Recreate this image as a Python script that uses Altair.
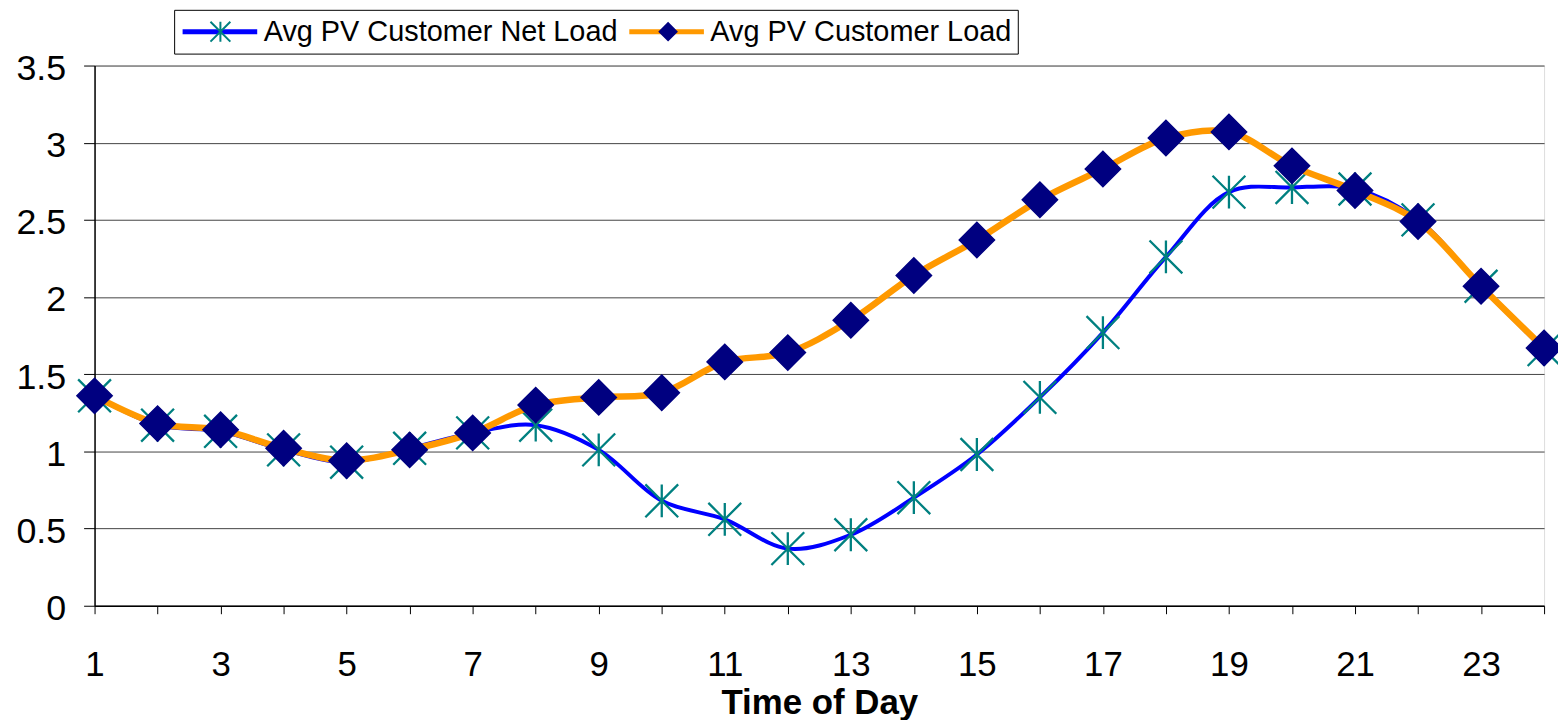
import altair as alt
import pandas as pd

# ---- data ----
hours = list(range(1, 25))
net_load = [1.36, 1.17, 1.13, 1.01, 0.93, 1.02, 1.12, 1.17, 1.01, 0.68, 0.56, 0.37,
            0.46, 0.70, 0.98, 1.35, 1.77, 2.26, 2.68, 2.71, 2.70, 2.50, 2.07, 1.66]
cust_load = [1.36, 1.18, 1.14, 1.02, 0.94, 1.01, 1.12, 1.30, 1.35, 1.38, 1.58, 1.64,
             1.85, 2.14, 2.37, 2.63, 2.83, 3.03, 3.07, 2.85, 2.69, 2.49, 2.07, 1.67]
series_names = ["Avg PV Customer Net Load", "Avg PV Customer Load"]
marker_keys = ["net", "load"]
y_ticks = [0, 0.5, 1, 1.5, 2, 2.5, 3, 3.5]

rows = []
for name, key, vals in zip(series_names, marker_keys, [net_load, cust_load]):
    for h, v in zip(hours, vals):
        rows.append({"hour": h, "kw": v, "series": name, "marker": key})
df = pd.DataFrame(rows)

FONT = "Liberation Sans"
STAR = "M0,-0.253L0,0.253M-0.253,-0.253L0.253,0.253M-0.253,0.253L0.253,-0.253"
DIAMOND = "M-0.215,0L0,-0.215L0.215,0L0,0.215Z"

x_enc = alt.X(
    "hour:Q",
    scale=alt.Scale(domain=[1, 24], nice=False, zero=False),
    axis=alt.Axis(
        values=hours, format="d",
        labelExpr="datum.value % 2 == 1 ? datum.label : ''",
        grid=False, labelFlush=False, labelOverlap=False,
        title="Time of Day", titleFont=FONT, titleFontSize=35, titleFontWeight="bold",
        titleColor="black", titleBaseline="alphabetic", titleY=108,
        labelFont=FONT, labelFontSize=35, labelColor="black", labelPadding=34,
        tickSize=8, tickColor="black", domainColor="black", domainWidth=1.5,
    ),
)
y_enc = alt.Y(
    "kw:Q",
    scale=alt.Scale(domain=[0, 3.5], nice=False),
    axis=alt.Axis(
        values=y_ticks, format="~g", title=None,
        grid=True, gridColor="#444444", gridWidth=1,
        labelFont=FONT, labelFontSize=36, labelColor="black", labelPadding=18,
        labelOffset=3,
        tickSize=11, tickColor="black", domainColor="black", domainWidth=1.5,
    ),
)

common_legend = dict(
    title=None, orient="none", legendX=80, legendY=-56, direction="horizontal",
    clipHeight=32, padding=6, labelOffset=4, columnPadding=9,
    labelFont=FONT, labelFontSize=29, labelLimit=1000,
)

line_color = alt.Color(
    "series:N",
    scale=alt.Scale(domain=series_names, range=["#0000FF", "#FF9900"]),
    legend=alt.Legend(
        symbolType="stroke", symbolSize=5625, symbolStrokeWidth=5,
        labelColor="black", fillColor="white", strokeColor="black",
        **common_legend,
    ),
)
pt_legend = alt.Legend(
    symbolSize=6241, symbolStrokeWidth=2, labelOpacity=0, labelColor="black",
    labelExpr=f"datum.value == 'net' ? '{series_names[0]}' : '{series_names[1]}'",
    zindex=1, **common_legend,
)
pt_shape = alt.Shape("marker:N", scale=alt.Scale(domain=marker_keys, range=[STAR, DIAMOND]),
                     legend=pt_legend)
pt_fill = alt.Fill("marker:N", scale=alt.Scale(domain=marker_keys, range=["transparent", "#000080"]),
                   legend=pt_legend)
pt_stroke = alt.Stroke("marker:N", scale=alt.Scale(domain=marker_keys, range=["#008080", "#000080"]),
                       legend=pt_legend)

base = alt.Chart(df)

line_net = base.mark_line(strokeWidth=4, interpolate="catmull-rom").encode(
    x=x_enc, y=y_enc, color=line_color
).transform_filter(alt.datum.marker == "net")
pts_net = base.mark_point(size=17000, strokeWidth=2.3, opacity=1).encode(
    x=x_enc, y=y_enc, shape=pt_shape, fill=pt_fill, stroke=pt_stroke
).transform_filter(alt.datum.marker == "net")
line_load = base.mark_line(strokeWidth=6.5, interpolate="catmull-rom").encode(
    x=x_enc, y=y_enc, color=line_color
).transform_filter(alt.datum.marker == "load")
pts_load = base.mark_point(size=27250, strokeWidth=1.5, opacity=1).encode(
    x=x_enc, y=y_enc, shape=pt_shape, fill=pt_fill, stroke=pt_stroke
).transform_filter(alt.datum.marker == "load")

chart = alt.layer(line_net, pts_net, line_load, pts_load).properties(
    width=1457, height=543,
    autosize="none",
    padding={"left": 87, "top": 56, "right": 14, "bottom": 113},
).configure_view(stroke="#808080", strokeWidth=1.5).configure(background="white")

chart.save("out.html", embed_options={"renderer": "svg", "actions": False})
